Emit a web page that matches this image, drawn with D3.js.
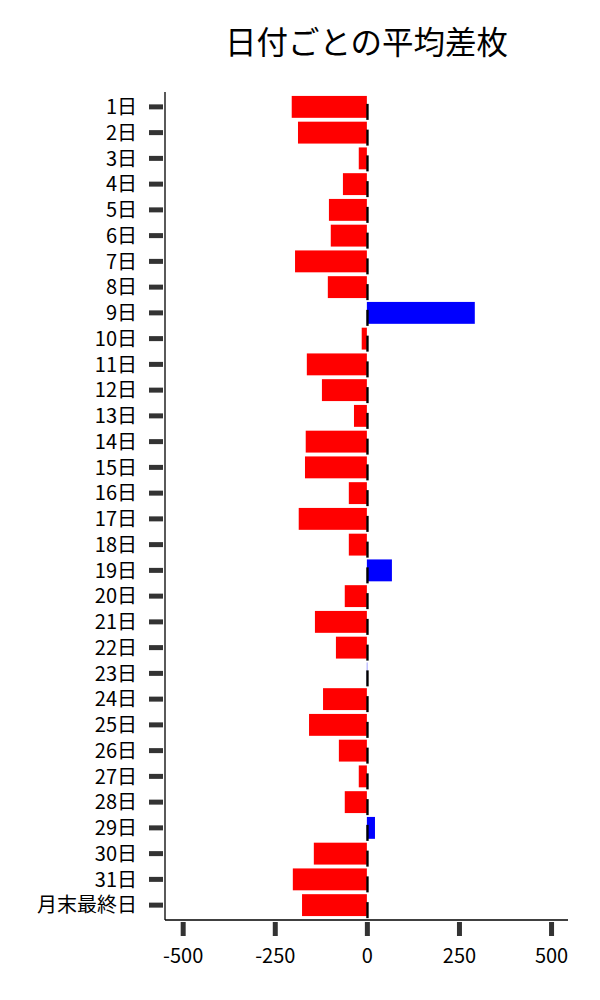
<!DOCTYPE html>
<html><head><meta charset="utf-8">
<script src="https://cdn.jsdelivr.net/npm/d3@7"></script>
<style>body{margin:0;background:#fff}svg{display:block;font-family:"Noto Sans CJK JP","Noto Sans",sans-serif}</style>
</head><body><svg id="c" width="600" height="1000"></svg>
<script>
const categories = ["1日","2日","3日","4日","5日","6日","7日","8日","9日","10日","11日","12日","13日","14日","15日","16日","17日","18日","19日","20日","21日","22日","23日","24日","25日","26日","27日","28日","29日","30日","31日","月末最終日"];
const values = [-204,-187,-22,-65,-103,-98,-195,-106,293,-14,-163,-122,-35,-166,-168,-49,-185,-49,68,-60,-141,-84,1,-119,-157,-76,-22,-60,22,-144,-201,-176];
const xTicks = [-500,-250,0,250,500];
const title = "日付ごとの平均差枚";

(function(){
const svg = d3.select("#c");
const pL = 165, pR = 568, pT = 92, pB = 920;
const x = d3.scaleLinear().domain([-548,546]).range([pL,pR]);
const y = d3.scaleBand().domain(categories).range([94,918]).paddingInner(0.15).paddingOuter(0.075);

svg.append("text").attr("x",(pL+pR)/2).attr("y",54).attr("text-anchor","middle")
  .attr("font-size",31.5).attr("fill","#000").text(title);

svg.append("g").selectAll("rect").data(categories).join("rect")
  .attr("x",(d,i)=>x(Math.min(0,values[i])))
  .attr("width",(d,i)=>Math.abs(x(values[i])-x(0)))
  .attr("y",d=>y(d)).attr("height",y.bandwidth())
  .attr("fill",(d,i)=>values[i]>=0?"#0000ff":"#ff0000");

svg.append("g").selectAll("line").data(categories).join("line")
  .attr("x1",x(0)+0.6).attr("x2",x(0)+0.6)
  .attr("y1",d=>y(d)+y.bandwidth()/2-3).attr("y2",d=>y(d)+y.bandwidth()/2+13)
  .attr("stroke","#000").attr("stroke-width",2.4);

const ya = svg.append("g").attr("transform",`translate(${pL-2},0)`)
  .call(d3.axisLeft(y).tickSize(14).tickPadding(12));
ya.select(".domain").remove();
ya.selectAll(".tick line").attr("stroke","#333").attr("stroke-width",5);
ya.selectAll(".tick text").attr("font-size",20).attr("fill","#000").attr("dy","0.36em")
  .attr("font-family","'Noto Sans CJK JP',sans-serif");

const xa = svg.append("g").attr("transform",`translate(0,${pB+2})`)
  .call(d3.axisBottom(x).tickValues(xTicks).tickSize(14).tickPadding(13).tickFormat(d=>String(d)));
xa.select(".domain").remove();
xa.selectAll(".tick line").attr("stroke","#333").attr("stroke-width",5);
xa.selectAll(".tick text").attr("font-size",20).attr("fill","#000")
  .attr("font-family","'Noto Sans CJK JP',sans-serif");

svg.append("line").attr("x1",pL).attr("x2",pL).attr("y1",pT).attr("y2",pB)
  .attr("stroke","#000").attr("stroke-width",1.3);
svg.append("line").attr("x1",pL).attr("x2",pR).attr("y1",pB).attr("y2",pB)
  .attr("stroke","#000").attr("stroke-width",1.3);
})();
</script></body></html>
